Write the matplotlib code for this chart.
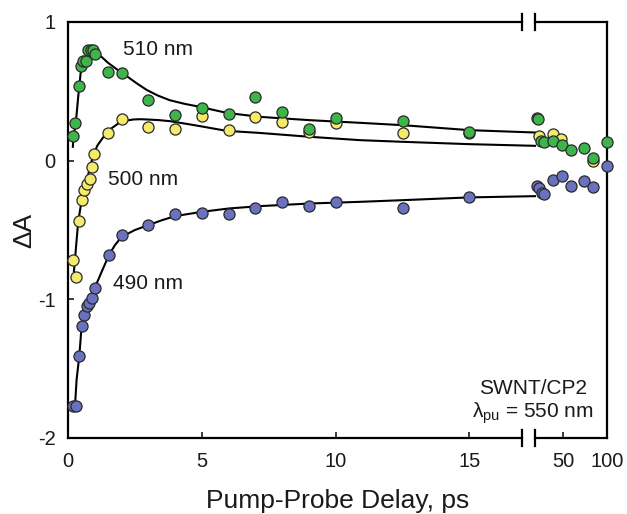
import numpy as np
import matplotlib
matplotlib.use('Agg')
import matplotlib.pyplot as plt

# Data (delay in ps, delta A)
green_x = [0.2, 0.26, 0.41, 0.47, 0.57, 0.67, 0.76, 0.86, 0.94, 1.0, 1.5, 2.0, 3.0, 4.0, 5.0,
           6.0, 7.0, 8.0, 9.0, 10.0, 12.5, 15.0, 20, 21.5, 24.7, 27.7, 38.7, 49, 58.9, 74, 84.2, 100]
green_y = [0.18, 0.27, 0.54, 0.68, 0.72, 0.72, 0.80, 0.80, 0.80, 0.77, 0.64, 0.63, 0.44, 0.33, 0.38,
           0.34, 0.46, 0.35, 0.23, 0.31, 0.285, 0.21, 0.31, 0.30, 0.143, 0.131, 0.14, 0.11, 0.08, 0.09, 0.02, 0.135]

yellow_x = [0.2, 0.3, 0.42, 0.51, 0.60, 0.70, 0.82, 0.91, 0.98, 1.5, 2.0, 3.0, 4.0, 5.0, 6.0,
            7.0, 8.0, 9.0, 10.0, 12.5, 15.0, 22.8, 38.7, 48, 84.2]
yellow_y = [-0.72, -0.84, -0.436, -0.285, -0.21, -0.165, -0.133, -0.045, 0.045, 0.20, 0.30, 0.244, 0.227, 0.32, 0.22,
            0.316, 0.28, 0.21, 0.27, 0.196, 0.20, 0.18, 0.19, 0.155, 0.0]

blue_x = [0.17, 0.30, 0.42, 0.51, 0.60, 0.70, 0.80, 0.91, 1.0, 1.53, 2.0, 3.0, 4.0, 5.0, 6.0,
          7.0, 8.0, 9.0, 10.0, 12.5, 15.0, 20, 22.8, 25.9, 28.5, 38.7, 48.8, 58.9, 73.2, 84.2, 100]
blue_y = [-1.77, -1.77, -1.41, -1.19, -1.11, -1.05, -1.03, -0.99, -0.917, -0.68, -0.537, -0.465, -0.386, -0.376, -0.386,
          -0.34, -0.30, -0.33, -0.30, -0.34, -0.265, -0.18, -0.20, -0.23, -0.24, -0.14, -0.11, -0.18, -0.15, -0.19, -0.04]

# Fit curves
green_fit_x = [0.18, 0.2, 0.29, 0.38, 0.47, 0.55, 0.63, 0.75, 0.88, 1.0, 1.13, 1.3, 1.5, 1.85, 2.19, 2.55,
               2.94, 3.35, 3.8, 4.35, 4.93, 5.92, 7.16, 9.03, 10.9, 12.5, 15.0, 17.45]
green_fit_y = [0.10, 0.17, 0.27, 0.46, 0.63, 0.70, 0.74, 0.775, 0.79, 0.785, 0.77, 0.74, 0.705, 0.655, 0.61, 0.56,
               0.51, 0.47, 0.436, 0.41, 0.388, 0.345, 0.316, 0.292, 0.273, 0.256, 0.22, 0.203]

yellow_fit_x = [0.22, 0.30, 0.38, 0.51, 0.70, 0.94, 1.1, 1.32, 1.6, 1.88, 2.15, 2.44, 2.7, 2.94, 3.35, 3.8,
                4.35, 4.93, 5.92, 7.16, 9.03, 10.9, 12.5, 15.0, 17.45]
yellow_fit_y = [-0.80, -0.62, -0.44, -0.285, -0.14, 0.04, 0.11, 0.17, 0.23, 0.268, 0.288, 0.297, 0.299, 0.297, 0.293,
                0.285, 0.268, 0.249, 0.215, 0.20, 0.172, 0.148, 0.136, 0.119, 0.107]

blue_fit_x = [0.26, 0.32, 0.42, 0.51, 0.60, 0.70, 0.85, 1.0, 1.26, 1.53, 1.75, 2.0, 2.5, 3.0, 3.5, 4.0, 5.0,
              6.0, 7.16, 9.03, 10.9, 12.5, 15.0, 17.45]
blue_fit_y = [-1.77, -1.58, -1.41, -1.19, -1.11, -1.05, -0.98, -0.917, -0.80, -0.68, -0.61, -0.55, -0.50, -0.465,
              -0.43, -0.40, -0.369, -0.345, -0.328, -0.309, -0.297, -0.285, -0.265, -0.256]

xtick_vals = [0, 5, 10, 15, 50, 100]
ytick_vals = [-2, -1, 0, 1]

# Broken axis: linear up to ~17.5 ps, then compressed 20-100 ps
brk_x = [-100, 17.5, 20, 100, 1000]
brk_u = [-100, 17.5, 17.52, 20.14, 20.14 + 900 * 0.0328]


def fwd(x):
    return np.interp(x, brk_x, brk_u)


def inv(u):
    return np.interp(u, brk_u, brk_x)


plt.rcParams['font.family'] = ['Liberation Sans', 'DejaVu Sans']
plt.rcParams['mathtext.fontset'] = 'custom'
plt.rcParams['mathtext.rm'] = 'Liberation Sans'
plt.rcParams['mathtext.it'] = 'Liberation Sans:italic'

txt = '#1a1a1a'
fig = plt.figure(figsize=(6.27, 5.14), dpi=100)
ax = fig.add_axes([0.1085, 0.1479, 0.8596, 0.8093])
ax.set_xscale('function', functions=(fwd, inv))

# fit lines
for fx, fy in [(green_fit_x, green_fit_y), (yellow_fit_x, yellow_fit_y), (blue_fit_x, blue_fit_y)]:
    ax.plot(fx, fy, color='black', lw=1.5, zorder=2, solid_joinstyle='round')

mk = dict(marker='o', ms=8, mec='#2a2a2a', mew=0.9, ls='none', zorder=3, clip_on=False)
ax.plot(yellow_x, yellow_y, mfc='#f6ea6c', **mk)
ax.plot(green_x, green_y, mfc='#3db54a', **mk)
ax.plot(blue_x, blue_y, mfc='#6a72c0', **mk)

ax.set_xlim(0, 100)
ax.set_ylim(-2, 1)
ax.set_xticks(xtick_vals)
ax.set_xticklabels([str(v) for v in xtick_vals])
ax.set_yticks(ytick_vals)
ax.set_yticklabels([str(v) for v in ytick_vals])
ax.minorticks_off()
ax.tick_params(direction='in', length=4.5, width=1.2, labelsize=14.5, colors=txt, pad=9)
ax.tick_params(axis='x', pad=10)

# spines with break marks on top and bottom
for s in ['top', 'bottom']:
    ax.spines[s].set_visible(False)
for s in ['left', 'right']:
    ax.spines[s].set_linewidth(1.6)
tr = ax.get_xaxis_transform()
for yy in [0, 1]:
    ax.plot([0, 16.98], [yy, yy], color='black', lw=1.6, transform=tr, clip_on=False, zorder=4)
    ax.plot([17.45, 100], [yy, yy], color='black', lw=1.6, transform=tr, clip_on=False, zorder=4)
    for bx in [16.98, 17.45]:
        ax.plot([bx, bx], [yy - 0.019, yy + 0.019], color='black', lw=1.6, transform=tr,
                clip_on=False, zorder=4)

ax.set_xlabel('Pump-Probe Delay, ps', fontsize=19, color=txt, labelpad=13)
ax.set_ylabel('ΔA', fontsize=19, color=txt, labelpad=1)

ax.text(2.04, 0.80, '510 nm', fontsize=15, color=txt, va='center')
ax.text(1.49, -0.133, '500 nm', fontsize=15, color=txt, va='center')
ax.text(1.68, -0.883, '490 nm', fontsize=15, color=txt, va='center')
ax.text(0.863, 0.12, 'SWNT/CP2', fontsize=15, color=txt, ha='center', va='center', transform=ax.transAxes)
ax.text(0.863, 0.06, r'$\mathrm{\lambda_{pu}}$ = 550 nm', fontsize=15, color=txt, ha='center', va='center',
        transform=ax.transAxes)

plt.savefig('out.png', dpi=100)
